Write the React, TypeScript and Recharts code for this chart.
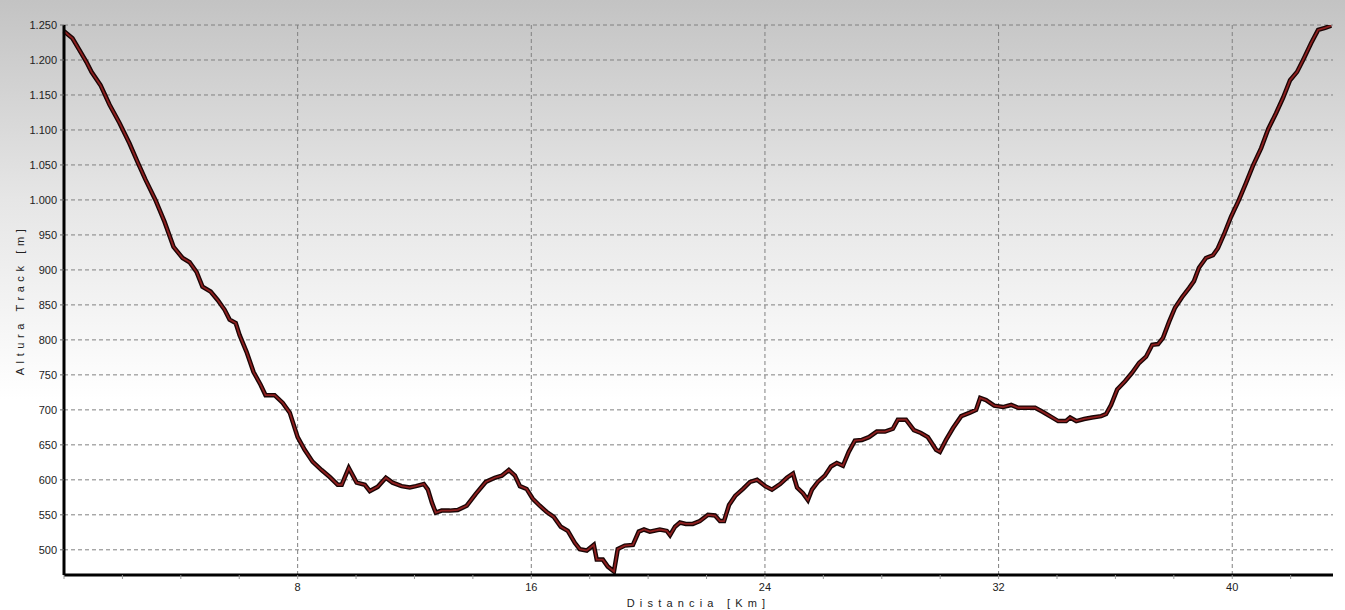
import {
  LineChart,
  Line,
  XAxis,
  YAxis,
  CartesianGrid,
  ReferenceLine,
  Label,
} from "recharts";

// distance in km, altitude in m (read from the profile)
const distKm = [
  0, 0.29, 0.53, 0.77, 0.94, 1.25, 1.56, 1.9, 2.24, 2.52, 2.79, 3.13, 3.44, 3.75, 4.06, 4.3, 4.54,
  4.74, 5.02, 5.26, 5.5, 5.67, 5.88, 6.01, 6.25, 6.49, 6.73, 6.9, 7.21, 7.49, 7.73, 8.0, 8.24, 8.51,
  8.82, 9.1, 9.37, 9.51, 9.75, 10.02, 10.3, 10.47, 10.74, 11.02, 11.25, 11.56, 11.84, 12.05, 12.32,
  12.46, 12.6, 12.73, 12.93, 13.21, 13.48, 13.79, 14.1, 14.44, 14.75, 14.99, 15.23, 15.44, 15.61,
  15.84, 16.05, 16.29, 16.53, 16.77, 17.01, 17.25, 17.49, 17.66, 17.9, 18.14, 18.24, 18.45, 18.62,
  18.83, 18.96, 19.2, 19.48, 19.68, 19.86, 20.06, 20.4, 20.64, 20.75, 20.92, 21.09, 21.29, 21.53,
  21.77, 22.05, 22.29, 22.46, 22.6, 22.77, 22.98, 23.25, 23.49, 23.73, 24.01, 24.24, 24.52, 24.75,
  24.96, 25.1, 25.3, 25.47, 25.61, 25.81, 26.05, 26.26, 26.46, 26.67, 26.87, 27.08, 27.32, 27.56,
  27.83, 28.11, 28.38, 28.55, 28.83, 29.1, 29.34, 29.58, 29.86, 29.99, 30.2, 30.44, 30.72, 31.02,
  31.23, 31.37, 31.57, 31.85, 32.15, 32.43, 32.67, 32.98, 33.25, 33.52, 33.8, 34.04, 34.31, 34.45,
  34.66, 34.93, 35.2, 35.51, 35.68, 35.85, 36.06, 36.33, 36.57, 36.81, 37.05, 37.26, 37.46, 37.63,
  37.84, 38.04, 38.28, 38.52, 38.69, 38.86, 39.1, 39.34, 39.51, 39.72, 39.96, 40.23, 40.47, 40.71,
  40.99, 41.23, 41.5, 41.74, 41.98, 42.22, 42.46, 42.7, 42.94, 43.18, 43.39,
];

const altitude = [
  1241, 1231, 1214, 1197, 1183, 1164, 1136, 1110, 1081, 1054, 1029, 1000, 969, 933, 917, 911, 897,
  876, 869, 857, 843, 829, 824, 807, 783, 754, 736, 721, 721, 710, 696, 661, 643, 626,
  614, 604, 593, 593, 617, 596, 593, 584, 590, 603, 596, 591, 589, 591, 594,
  586, 567, 553, 556, 556, 557, 563, 580, 597, 603, 606, 614, 606, 591,
  587, 573, 563, 554, 547, 533, 527, 510, 501, 499, 507, 486, 486, 476,
  469, 501, 506, 507, 526, 529, 526, 529, 527, 521, 533, 539, 537, 537,
  541, 550, 549, 541, 541, 564, 577, 587, 597, 600, 591, 586, 594, 603,
  609, 589, 581, 571, 586, 597, 606, 619, 624, 620, 640, 656, 657, 661,
  669, 669, 673, 686, 686, 671, 667, 661, 643, 640, 657, 674, 691, 696,
  700, 717, 714, 706, 704, 707, 703, 703, 703, 697, 690, 684, 684, 689,
  684, 687, 689, 691, 694, 707, 729, 741, 753, 767, 776, 793, 794, 803,
  826, 846, 861, 874, 884, 903, 917, 921, 931, 951, 976, 1000, 1024, 1049,
  1074, 1101, 1124, 1146, 1171, 1183, 1203, 1224, 1243, 1246, 1249,
];

const yTicks = [500, 550, 600, 650, 700, 750, 800, 850, 900, 950, 1000, 1050, 1100, 1150, 1200, 1250];
const xTicks = [0, 2, 4, 6, 8, 10, 12, 14, 16, 18, 20, 22, 24, 26, 28, 30, 32, 34, 36, 38, 40, 42];
const xGrid = [8, 16, 24, 32, 40];

const data = distKm.map((d, i) => ({ km: d, alt: altitude[i] }));

const fmtAlt = (v: number) =>
  v >= 1000 ? `${Math.floor(v / 1000)}.${String(v % 1000).padStart(3, "0")}` : String(v);
const fmtKm = (v: number) => (v % 8 === 0 && v !== 0 ? String(v) : "");

const font = "'Liberation Sans', Arial, sans-serif";

const YTitle = (props: any) => {
  const vb = props.viewBox;
  const cy = vb.y + vb.height / 2;
  return (
    <text
      x={24}
      y={cy}
      transform={`rotate(-90 24 ${cy})`}
      textAnchor="middle"
      fontFamily={font}
      fontSize={11}
      fill="#222"
      letterSpacing={4.6}
    >
      Altura Track [m]
    </text>
  );
};

const XTitle = (props: any) => {
  const vb = props.viewBox;
  return (
    <text
      x={vb.x + vb.width / 2}
      y={607}
      textAnchor="middle"
      fontFamily={font}
      fontSize={11}
      fill="#222"
      letterSpacing={5.2}
    >
      Distancia [Km]
    </text>
  );
};

export default function App() {
  return (
    <div
      style={{
        position: "absolute",
        left: 0,
        top: 0,
        width: 1345,
        height: 610,
        background: "linear-gradient(#c3c3c3 0px, #e6e6e6 200px, #ffffff 400px, #ffffff 610px)",
      }}
    >
      <LineChart
        width={1345}
        height={610}
        data={data}
        margin={{ top: 25, right: 12, bottom: 0, left: 0 }}
      >
        <CartesianGrid
          horizontal
          vertical={false}
          stroke="#808080"
          strokeDasharray="4 3"
        />
        {xGrid.map((g) => (
          <ReferenceLine key={g} x={g} stroke="#808080" strokeDasharray="4 3" />
        ))}
        <XAxis
          dataKey="km"
          type="number"
          domain={[0, 43.45]}
          ticks={xTicks}
          tickFormatter={fmtKm}
          interval={0}
          height={35}
          tickSize={4}
          tickMargin={4}
          axisLine={{ stroke: "#000", strokeWidth: 3 }}
          tickLine={{ stroke: "#999" }}
          tick={{ fontFamily: font, fontSize: 11, fill: "#222" }}
        >
          <Label content={XTitle} />
        </XAxis>
        <XAxis
          xAxisId="top"
          dataKey="km"
          type="number"
          domain={[0, 43.45]}
          orientation="top"
          height={0}
          tick={false}
          tickLine={false}
          axisLine={{ stroke: "#000", strokeWidth: 2 }}
        />
        <YAxis
          type="number"
          domain={[464, 1250]}
          ticks={yTicks}
          tickFormatter={fmtAlt}
          interval={0}
          width={64}
          tickSize={4}
          tickMargin={3}
          allowDataOverflow
          axisLine={{ stroke: "#000", strokeWidth: 3 }}
          tickLine={{ stroke: "#666" }}
          tick={{ fontFamily: font, fontSize: 11, fill: "#222" }}
        >
          <Label content={YTitle} />
        </YAxis>
        <YAxis
          yAxisId="right"
          orientation="right"
          type="number"
          domain={[464, 1250]}
          width={0}
          tick={false}
          tickLine={false}
          axisLine={{ stroke: "#000", strokeWidth: 2 }}
        />
        <Line
          type="linear"
          dataKey="alt"
          stroke="#1a0505"
          strokeWidth={4.5}
          dot={false}
          isAnimationActive={false}
        />
        <Line
          type="linear"
          dataKey="alt"
          stroke="#8e1f1f"
          strokeWidth={1.8}
          dot={false}
          isAnimationActive={false}
        />
      </LineChart>
    </div>
  );
}
